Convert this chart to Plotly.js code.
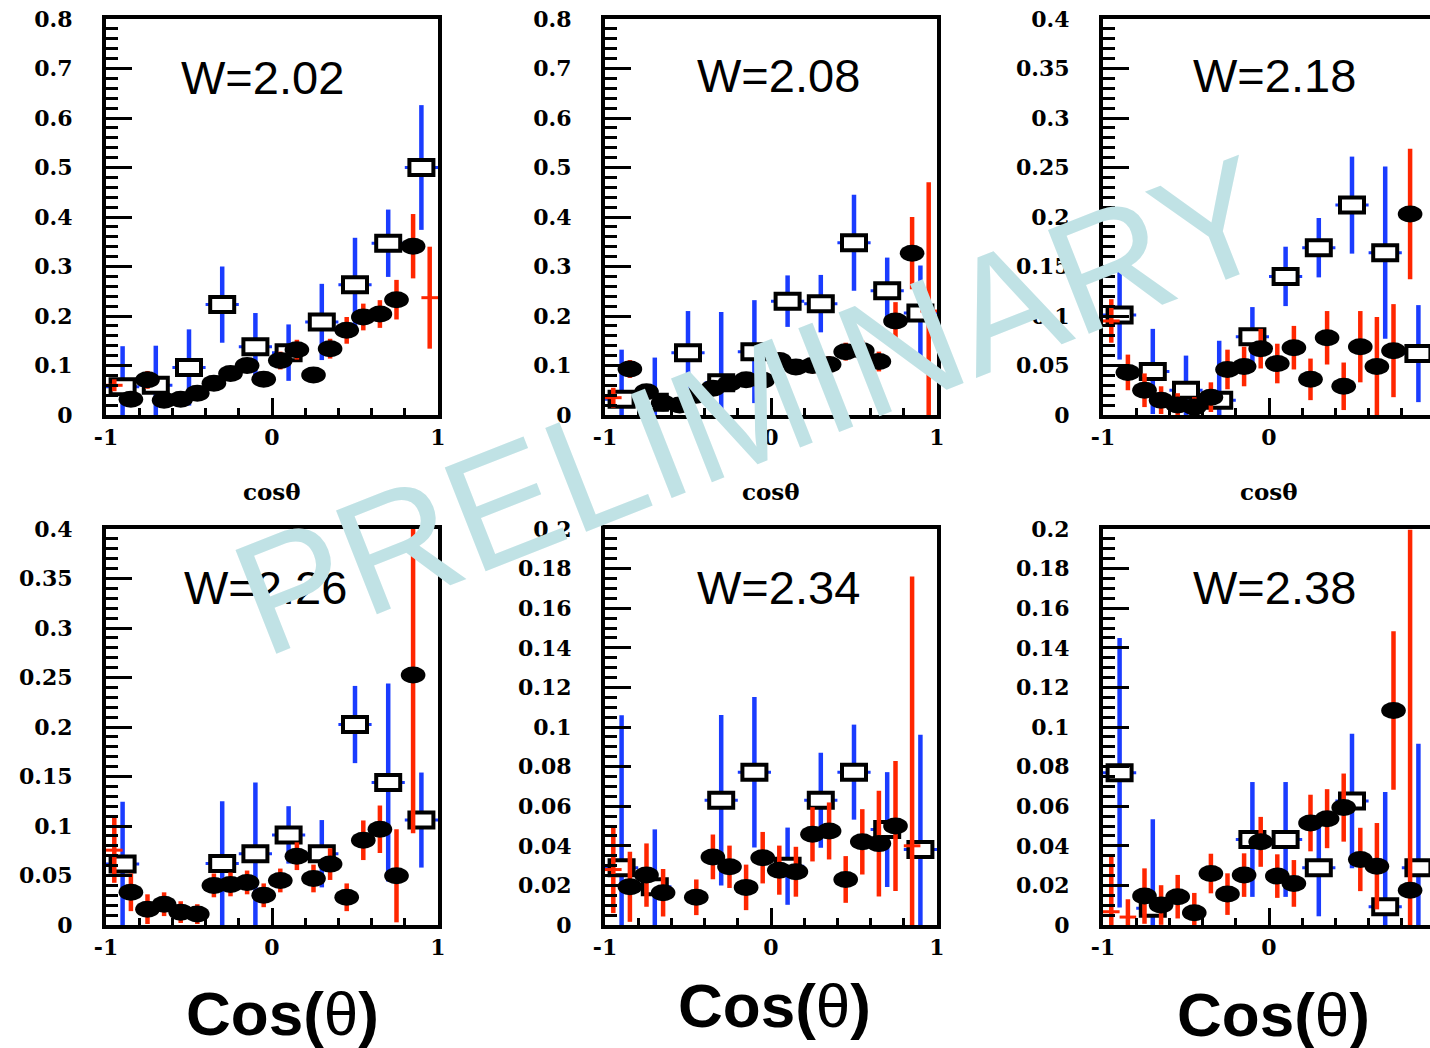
<!DOCTYPE html>
<html>
<head>
<meta charset="utf-8">
<script src="https://cdn.plot.ly/plotly-3.0.1.min.js"></script>
<style>
  html, body { margin: 0; padding: 0; overflow: hidden; background: #ffffff; }
  #chart { width: 1440px; height: 1048px; }
</style>
</head>
<body>
<div id="chart"></div>
<script>
// ---- bins in cos(theta) ----
const fineBins   = [-0.95, -0.85, -0.75, -0.65, -0.55, -0.45, -0.35, -0.25, -0.15, -0.05,
                     0.05, 0.15, 0.25, 0.35, 0.45, 0.55, 0.65, 0.75, 0.85, 0.95];
const coarseBins = [-0.9, -0.7, -0.5, -0.3, -0.1, 0.1, 0.3, 0.5, 0.7, 0.9];
const fineHalfWidth = 0.05;
const coarseHalfWidth = 0.1;

// ---- panel titles ----
const panelLabels = ['W=2.02', 'W=2.08', 'W=2.18', 'W=2.26', 'W=2.34', 'W=2.38'];
const panelYMax   = [0.8, 0.8, 0.4, 0.4, 0.2, 0.2];

// ---- y tick labels ----
const yTicksA = [0, 0.1, 0.2, 0.3, 0.4, 0.5, 0.6, 0.7, 0.8];
const yTextA  = ['0', '0.1', '0.2', '0.3', '0.4', '0.5', '0.6', '0.7', '0.8'];
const yTicksB = [0, 0.05, 0.1, 0.15, 0.2, 0.25, 0.3, 0.35, 0.4];
const yTextB  = ['0', '0.05', '0.1', '0.15', '0.2', '0.25', '0.3', '0.35', '0.4'];
const yTicksC = [0, 0.02, 0.04, 0.06, 0.08, 0.1, 0.12, 0.14, 0.16, 0.18, 0.2];
const yTextC  = ['0', '0.02', '0.04', '0.06', '0.08', '0.1', '0.12', '0.14', '0.16', '0.18', '0.2'];
const xTicks  = [-1, 0, 1];
const xText   = ['-1', '0', '1'];

// ---- W = 2.02 ----
const coarseY_202   = [0.057, 0.060, 0.096, 0.223, 0.138, 0.126, 0.188, 0.263, 0.347, 0.500];
const coarseErr_202 = [0.082, 0.080, 0.077, 0.077, 0.068, 0.057, 0.077, 0.095, 0.068, 0.126];
const fineY_202     = [0.060, 0.032, 0.071, 0.030, 0.032, 0.044, 0.064, 0.084, 0.100, 0.072,
                       0.110, 0.132, 0.081, 0.134, 0.171, 0.198, 0.204, 0.233, 0.341, 0.237];
const fineErr_202   = [0.012, 0.010, 0.018, 0.010, 0.010, 0.010, 0.012, 0.012, 0.014, 0.015,
                       0.018, 0.020, 0.015, 0.020, 0.027, 0.027, 0.028, 0.040, 0.065, 0.103];
const bare_202      = [-0.95, 0.95];

// ---- W = 2.08 ----
const coarseY_208   = [0.032, 0.026, 0.126, 0.065, 0.128, 0.230, 0.225, 0.348, 0.251, 0.206];
const coarseErr_208 = [0.100, 0.090, 0.084, 0.143, 0.104, 0.052, 0.058, 0.097, 0.067, 0.096];
const fineY_208     = [0.035, 0.093, 0.047, 0.024, 0.020, 0.040, 0.054, 0.064, 0.071, 0.070,
                       0.110, 0.097, 0.100, 0.102, 0.128, 0.130, 0.108, 0.190, 0.327, 0.210];
const fineErr_208   = [0.020, 0.018, 0.012, 0.010, 0.010, 0.012, 0.012, 0.013, 0.014, 0.015,
                       0.016, 0.016, 0.016, 0.017, 0.018, 0.020, 0.020, 0.038, 0.073, 0.260];
const bare_208      = [-0.95, 0.95];

// ---- W = 2.18 ----
const coarseY_218   = [0.101, 0.044, 0.025, 0.015, 0.079, 0.140, 0.169, 0.212, 0.164, 0.062];
const coarseErr_218 = [0.045, 0.043, 0.035, 0.060, 0.030, 0.030, 0.030, 0.049, 0.087, 0.049];
const fineY_218     = [0.095, 0.043, 0.025, 0.015, 0.010, 0.008, 0.018, 0.046, 0.049, 0.067,
                       0.052, 0.068, 0.036, 0.078, 0.029, 0.069, 0.049, 0.065, 0.203, null];
const fineErr_218   = [0.022, 0.018, 0.017, 0.014, 0.012, 0.010, 0.015, 0.020, 0.020, 0.020,
                       0.020, 0.022, 0.021, 0.027, 0.024, 0.036, 0.050, 0.047, 0.066, null];
const bare_218      = [-0.95];

// ---- W = 2.26 ----
const coarseY_226   = [0.0615, null, null, 0.062, 0.072, 0.091, 0.072, 0.2025, 0.144, 0.106];
const coarseErr_226 = [0.063, null, null, 0.063, 0.072, 0.029, 0.034, 0.039, 0.100, 0.048];
const fineY_226     = [0.0756, 0.033, 0.016, 0.021, 0.013, 0.011, 0.040, 0.041, 0.043, 0.030,
                       0.045, 0.0695, 0.047, 0.0615, 0.028, 0.0856, 0.0967, 0.0497, 0.2526, null];
const fineErr_226   = [0.033, 0.019, 0.015, 0.012, 0.011, 0.010, 0.012, 0.012, 0.012, 0.012,
                       0.012, 0.014, 0.014, 0.016, 0.014, 0.020, 0.024, 0.047, 0.160, null];
const bare_226      = [-0.95];

// ---- W = 2.34 ----
const coarseY_234   = [0.0289, 0.0193, null, 0.063, 0.0772, 0.0297, 0.063, 0.0772, 0.0482, 0.0381];
const coarseErr_234 = [0.077, 0.029, null, 0.043, 0.038, 0.0195, 0.024, 0.024, 0.029, 0.058];
const fineY_234     = [0.028, 0.0193, 0.0252, 0.0163, null, 0.014, 0.0344, 0.0294, 0.019, 0.034,
                       0.0277, 0.0269, 0.0458, 0.0475, 0.023, 0.042, 0.0411, 0.050, 0.040, null];
const fineErr_234   = [0.022, 0.0177, 0.016, 0.012, null, 0.009, 0.0113, 0.0107, 0.0115, 0.013,
                       0.0124, 0.0126, 0.0137, 0.0144, 0.0118, 0.0165, 0.0267, 0.0328, 0.136, null];
const bare_234      = [-0.95, 0.85];

// ---- W = 2.38 ----
const coarseY_238   = [0.0769, 0.0084, null, null, 0.0432, 0.0432, 0.0289, 0.0626, 0.0092, 0.0289];
const coarseErr_238 = [0.068, 0.045, null, null, 0.029, 0.029, 0.0245, 0.034, 0.058, 0.0626];
const fineY_238     = [0.0067, 0.004, 0.0146, 0.0101, 0.0143, 0.0062, 0.026, 0.0156, 0.0252, 0.042,
                       0.0247, 0.021, 0.0515, 0.0537, 0.0593, 0.0331, 0.0297, 0.1083, 0.0176, null];
const fineErr_238   = [0.029, 0.009, 0.014, 0.010, 0.011, 0.010, 0.010, 0.0105, 0.011, 0.0126,
                       0.011, 0.0118, 0.0143, 0.0149, 0.0172, 0.016, 0.0218, 0.040, 0.182, null];
const bare_238      = [-0.95, -0.85];

// ---- figure geometry (pixels) ----
const FIG_W = 1440, FIG_H = 1048;
const colPx = [[106, 438], [605, 937], [1103, 1435]];
const rowPx = [[19, 415], [529, 925]];

const BLUE = '#1a3cff';
const RED = '#ff2600';

const panels = [
  { cy: coarseY_202, ce: coarseErr_202, fy: fineY_202, fe: fineErr_202, bare: bare_202, ticks: yTicksA, text: yTextA, minor: 0.02 },
  { cy: coarseY_208, ce: coarseErr_208, fy: fineY_208, fe: fineErr_208, bare: bare_208, ticks: yTicksA, text: yTextA, minor: 0.02 },
  { cy: coarseY_218, ce: coarseErr_218, fy: fineY_218, fe: fineErr_218, bare: bare_218, ticks: yTicksB, text: yTextB, minor: 0.01 },
  { cy: coarseY_226, ce: coarseErr_226, fy: fineY_226, fe: fineErr_226, bare: bare_226, ticks: yTicksB, text: yTextB, minor: 0.01 },
  { cy: coarseY_234, ce: coarseErr_234, fy: fineY_234, fe: fineErr_234, bare: bare_234, ticks: yTicksC, text: yTextC, minor: 0.005 },
  { cy: coarseY_238, ce: coarseErr_238, fy: fineY_238, fe: fineErr_238, bare: bare_238, ticks: yTicksC, text: yTextC, minor: 0.005 }
];

function minorVals(lo, hi, step) {
  const out = [];
  const n = Math.round((hi - lo) / step);
  for (let k = 0; k <= n; k++) out.push(+(lo + k * step).toFixed(6));
  return out;
}

const tickFont = { family: 'DejaVu Serif', size: 22, color: '#000', weight: 'bold' };
const traces = [];
const layout = {
  width: FIG_W, height: FIG_H,
  margin: { l: 0, r: 0, t: 0, b: 0 },
  paper_bgcolor: '#fff', plot_bgcolor: '#fff',
  showlegend: false,
  annotations: []
};

panels.forEach((p, i) => {
  const n = i + 1;
  const xa = 'x' + (n === 1 ? '' : n), ya = 'y' + (n === 1 ? '' : n);
  const col = colPx[i % 3], row = rowPx[Math.floor(i / 3)];
  const ymax = panelYMax[i];

  layout['xaxis' + (n === 1 ? '' : n)] = {
    domain: [col[0] / FIG_W, col[1] / FIG_W], anchor: ya,
    range: [-1, 1], fixedrange: true,
    showline: true, linewidth: 4, linecolor: '#000', mirror: true,
    showgrid: false, zeroline: false,
    ticks: 'inside', ticklen: 17, tickwidth: 3, tickcolor: '#000',
    tickmode: 'array', tickvals: xTicks, ticktext: xText,
    minor: { ticks: 'inside', ticklen: 7, tickwidth: 3, tickcolor: '#000',
             tickmode: 'array', tickvals: minorVals(-0.8, 0.8, 0.2) },
    tickfont: tickFont, ticklabelstandoff: 0
  };
  layout['yaxis' + (n === 1 ? '' : n)] = {
    domain: [1 - row[1] / FIG_H, 1 - row[0] / FIG_H], anchor: xa,
    range: [0, ymax], fixedrange: true,
    showline: true, linewidth: 4, linecolor: '#000', mirror: true,
    showgrid: false, zeroline: false,
    ticks: 'inside', ticklen: 26, tickwidth: 3, tickcolor: '#000',
    tickmode: 'array', tickvals: p.ticks, ticktext: p.text,
    minor: { ticks: 'inside', ticklen: 12, tickwidth: 3, tickcolor: '#000',
             tickmode: 'array', tickvals: minorVals(0, ymax, p.minor) },
    tickfont: tickFont, ticklabelstandoff: 25
  };

  // coarse-binned points: open boxes with blue errors
  traces.push({
    type: 'scatter', mode: 'markers', name: 'coarse', xaxis: xa, yaxis: ya,
    x: coarseBins, y: p.cy,
    error_y: { type: 'data', array: p.ce, color: BLUE, thickness: 4.5, width: 0 },
    error_x: { type: 'constant', value: coarseHalfWidth, color: BLUE, thickness: 3, width: 0 },
    marker: { symbol: 'square', size: 15, color: '#fff', line: { color: '#000', width: 4 } },
    hoverinfo: 'skip'
  });

  // fine-binned points: black markers with red errors
  const fx = [], fy = [], fe = [], bx = [], by = [], be = [];
  fineBins.forEach((x, k) => {
    if (p.fy[k] === null) return;
    if (p.bare.includes(x)) { bx.push(x); by.push(p.fy[k]); be.push(p.fe[k]); }
    else { fx.push(x); fy.push(p.fy[k]); fe.push(p.fe[k]); }
  });
  traces.push({
    type: 'scatter', mode: 'markers', name: 'bare', xaxis: xa, yaxis: ya,
    x: bx, y: by,
    error_y: { type: 'data', array: be, color: RED, thickness: 4.5, width: 0 },
    error_x: { type: 'constant', value: fineHalfWidth, color: RED, thickness: 3, width: 0 },
    marker: { symbol: 'circle', size: 2, color: RED },
    hoverinfo: 'skip'
  });
  traces.push({
    type: 'scatter', mode: 'markers', name: 'fine', xaxis: xa, yaxis: ya,
    x: fx, y: fy,
    error_y: { type: 'data', array: fe, color: RED, thickness: 4.5, width: 0 },
    error_x: { type: 'constant', value: fineHalfWidth, color: RED, thickness: 3, width: 0 },
    marker: { symbol: 'circle', size: 17, color: '#000', line: { width: 0 } },
    hoverinfo: 'skip'
  });
});

// panel labels
const labelPos = [[262, 77], [778, 75], [1274, 75], [265, 587], [778, 587], [1274, 587]];
panelLabels.forEach((t, i) => {
  layout.annotations.push({
    text: t, xref: 'paper', yref: 'paper',
    x: labelPos[i][0] / FIG_W, y: 1 - labelPos[i][1] / FIG_H,
    xanchor: 'center', yanchor: 'middle', showarrow: false,
    font: { family: 'Liberation Sans', size: 47, color: '#000' }
  });
});

// small axis captions under the top row
[272, 771, 1269].forEach(cx => {
  layout.annotations.push({
    text: 'cosθ', xref: 'paper', yref: 'paper',
    x: cx / FIG_W, y: 1 - 492 / FIG_H, xanchor: 'center', yanchor: 'middle',
    showarrow: false, font: { family: 'DejaVu Serif', size: 23, color: '#000', weight: 'bold' }
  });
});

// large axis captions under the bottom row
[[282, 1013], [774, 1005], [1273, 1014]].forEach(([cx, cy]) => {
  layout.annotations.push({
    text: '<b>Cos(</b>θ<b>)</b>', xref: 'paper', yref: 'paper',
    x: cx / FIG_W, y: 1 - cy / FIG_H, xanchor: 'center', yanchor: 'middle',
    showarrow: false, font: { family: 'Liberation Sans', size: 62, color: '#000' }
  });
});

// watermark across the figure
layout.annotations.push({
  text: 'PRELIMINARY', xref: 'paper', yref: 'paper',
  x: 752 / FIG_W, y: 1 - 405 / FIG_H, xanchor: 'center', yanchor: 'middle',
  textangle: -21.5, showarrow: false,
  font: { family: 'Liberation Sans', size: 162, color: 'rgb(192,226,229)' }
});

// marker aspect: boxes and dots are wider than tall
const markerStretch = { coarse: 1.6, fine: 1.45 };

Plotly.newPlot('chart', traces, layout, { staticPlot: true, displayModeBar: false }).then(gd => {
  gd.querySelectorAll('.scatterlayer .trace').forEach(g => {
    const cd = g.__data__;
    if (!cd || !cd[0] || !cd[0].trace) return;
    const sx = markerStretch[cd[0].trace.name];
    if (!sx) return;
    g.querySelectorAll('path.point').forEach(pt => {
      const tf = pt.getAttribute('transform') || '';
      pt.setAttribute('transform', tf + ' scale(' + sx + ',1)');
      pt.style.vectorEffect = 'non-scaling-stroke';
    });
  });
});
</script>
</body>
</html>
